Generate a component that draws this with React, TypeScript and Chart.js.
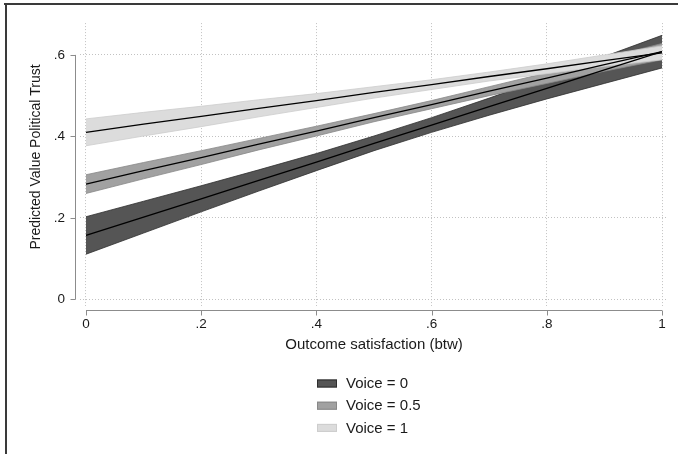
import React, { useEffect, useRef } from "react";
import { Chart, registerables } from "chart.js";

Chart.register(...registerables);

const xValues = [0, 0.1, 0.2, 0.3, 0.4, 0.5, 0.6, 0.7, 0.8, 0.9, 1];

const voice0Fit = [0.157, 0.202, 0.247, 0.292, 0.337, 0.383, 0.428, 0.473, 0.518, 0.563, 0.608];
const voice0Lower = [0.111, 0.163, 0.215, 0.266, 0.316, 0.365, 0.41, 0.452, 0.492, 0.53, 0.568];
const voice0Upper = [0.203, 0.241, 0.279, 0.318, 0.358, 0.401, 0.446, 0.494, 0.544, 0.596, 0.648];

const voice05Fit = [0.283, 0.316, 0.348, 0.381, 0.413, 0.446, 0.478, 0.511, 0.543, 0.576, 0.608];
const voice05Lower = [0.26, 0.296, 0.331, 0.367, 0.401, 0.436, 0.468, 0.5, 0.53, 0.56, 0.588];
const voice05Upper = [0.306, 0.336, 0.365, 0.395, 0.425, 0.456, 0.488, 0.522, 0.556, 0.592, 0.628];

const voice1Fit = [0.41, 0.43, 0.449, 0.469, 0.488, 0.508, 0.527, 0.547, 0.566, 0.586, 0.605];
const voice1Lower = [0.377, 0.401, 0.424, 0.448, 0.471, 0.494, 0.515, 0.536, 0.554, 0.572, 0.588];
const voice1Upper = [0.443, 0.459, 0.474, 0.49, 0.505, 0.522, 0.539, 0.558, 0.578, 0.6, 0.622];

const seriesLabels = ["Voice = 0", "Voice = 0.5", "Voice = 1"];
const xTickValues = [0, 0.2, 0.4, 0.6, 0.8, 1];
const xTickLabels = ["0", ".2", ".4", ".6", ".8", "1"];
const yTickValues = [0, 0.2, 0.4, 0.6];
const yTickLabels = ["0", ".2", ".4", ".6"];
const xTitle = "Outcome satisfaction (btw)";
const yTitle = "Predicted Value Political Trust";

const FONT = "'Liberation Sans', Arial, Helvetica, sans-serif";
const TEXT = "#1a1a1a";
const bandFill = ["#555555", "#a1a1a1", "#dcdcdc"];
const bandEdge = ["#2e2e2e", "#888888", "#cdcdcd"];

const pts = (ys: number[]) => xValues.map((x, i) => ({ x, y: ys[i] }));

const decorPlugin = {
  id: "decor",
  afterDraw(chart: any) {
    const { ctx, chartArea, scales } = chart;
    const x = scales.x;
    const y = scales.y;
    ctx.save();
    // frame
    ctx.fillStyle = "#3a3a3a";
    ctx.fillRect(4, 3, 674, 2);
    ctx.fillRect(5, 3, 2, 451);
    // axes
    ctx.strokeStyle = "#8c8c8c";
    ctx.lineWidth = 1;
    const ax = Math.round(chartArea.left - 5) + 0.5;
    ctx.beginPath();
    ctx.moveTo(ax, y.getPixelForValue(yTickValues[0]));
    ctx.lineTo(ax, y.getPixelForValue(yTickValues[yTickValues.length - 1]));
    yTickValues.forEach((v) => {
      const py = Math.round(y.getPixelForValue(v)) + 0.5;
      ctx.moveTo(ax - 5, py);
      ctx.lineTo(ax, py);
    });
    const ay = Math.round(chartArea.bottom + 4) + 0.5;
    ctx.moveTo(x.getPixelForValue(xTickValues[0]), ay);
    ctx.lineTo(x.getPixelForValue(xTickValues[xTickValues.length - 1]), ay);
    xTickValues.forEach((v) => {
      const px = Math.round(x.getPixelForValue(v)) + 0.5;
      ctx.moveTo(px, ay);
      ctx.lineTo(px, ay + 5);
    });
    ctx.stroke();
    // y title
    ctx.save();
    ctx.translate(36, 157);
    ctx.rotate(-Math.PI / 2);
    ctx.font = `14px ${FONT}`;
    ctx.fillStyle = TEXT;
    ctx.textAlign = "center";
    ctx.textBaseline = "middle";
    ctx.fillText(yTitle, 0, 0);
    ctx.restore();
    // legend
    ctx.font = `15px ${FONT}`;
    ctx.textBaseline = "middle";
    ctx.textAlign = "left";
    seriesLabels.forEach((lab, i) => {
      const cy = 383.5 + i * 22.2;
      ctx.fillStyle = bandFill[i];
      ctx.fillRect(317, cy - 4, 20, 8);
      ctx.strokeStyle = bandEdge[i];
      ctx.lineWidth = 1;
      ctx.strokeRect(317.5, cy - 3.5, 19, 7);
      ctx.fillStyle = TEXT;
      ctx.fillText(lab, 346, cy + 0.5);
    });
    ctx.restore();
  },
};

export default function App() {
  const ref = useRef<HTMLCanvasElement | null>(null);

  useEffect(() => {
    if (!ref.current) return;
    const bands = [
      [voice0Lower, voice0Upper],
      [voice05Lower, voice05Upper],
      [voice1Lower, voice1Upper],
    ];
    const fits = [voice0Fit, voice05Fit, voice1Fit];
    const datasets: any[] = [];
    bands.forEach(([lo, hi], i) => {
      datasets.push({
        label: seriesLabels[i] + " lower",
        data: pts(lo),
        borderColor: bandEdge[i],
        borderWidth: 0.8,
        pointRadius: 0,
        fill: false,
        order: 3 - i,
      });
      datasets.push({
        label: seriesLabels[i],
        data: pts(hi),
        borderColor: bandEdge[i],
        borderWidth: 0.8,
        backgroundColor: bandFill[i],
        pointRadius: 0,
        fill: "-1",
        order: 3 - i,
      });
    });
    fits.forEach((f, i) => {
      datasets.push({
        label: seriesLabels[i] + " fit",
        data: pts(f),
        borderColor: "#000000",
        borderWidth: 1.3,
        pointRadius: 0,
        fill: false,
        order: 0,
      });
    });

    const chart = new Chart(ref.current, {
      type: "line",
      data: { datasets },
      plugins: [decorPlugin],
      options: {
        animation: false,
        responsive: false,
        layout: { padding: { left: 20, right: 10, top: 22, bottom: 100 } },
        plugins: { legend: { display: false }, tooltip: { enabled: false } },
        scales: {
          x: {
            type: "linear",
            min: -0.0104,
            max: 1.0104,
            afterBuildTicks: (s: any) => {
              s.ticks = xTickValues.map((v) => ({ value: v }));
            },
            afterFit: (s: any) => {
              s.height = 48;
            },
            ticks: {
              callback: (v: any) => {
                const k = xTickValues.findIndex((t) => Math.abs(t - v) < 1e-6);
                return k >= 0 ? xTickLabels[k] : "";
              },
              padding: 10,
              color: TEXT,
              font: { family: FONT, size: 13.5 },
              maxRotation: 0,
              autoSkip: false,
            },
            grid: {
              color: "#c2c2c2",
              lineWidth: 1,
              drawTicks: false,
            },
            border: { display: false, dash: [1, 2] },
            title: {
              display: true,
              text: xTitle,
              color: TEXT,
              font: { family: FONT, size: 15 },
              padding: { top: 0, bottom: 0 },
            },
          },
          y: {
            type: "linear",
            min: -0.016,
            max: 0.678,
            afterBuildTicks: (s: any) => {
              s.ticks = yTickValues.map((v) => ({ value: v }));
            },
            afterFit: (s: any) => {
              s.width = 60;
            },
            ticks: {
              callback: (v: any) => {
                const k = yTickValues.findIndex((t) => Math.abs(t - v) < 1e-6);
                return k >= 0 ? yTickLabels[k] : "";
              },
              padding: 15,
              color: TEXT,
              font: { family: FONT, size: 13.5 },
              autoSkip: false,
            },
            grid: {
              color: "#c2c2c2",
              lineWidth: 1,
              drawTicks: false,
            },
            border: { display: false, dash: [1, 2] },
            title: { display: false },
          },
        },
      } as any,
    });
    return () => chart.destroy();
  }, []);

  return (
    <div style={{ position: "fixed", left: 0, top: 0, width: 678, height: 454, background: "#fff" }}>
      <canvas ref={ref} width={678} height={454} style={{ display: "block" }} />
    </div>
  );
}
